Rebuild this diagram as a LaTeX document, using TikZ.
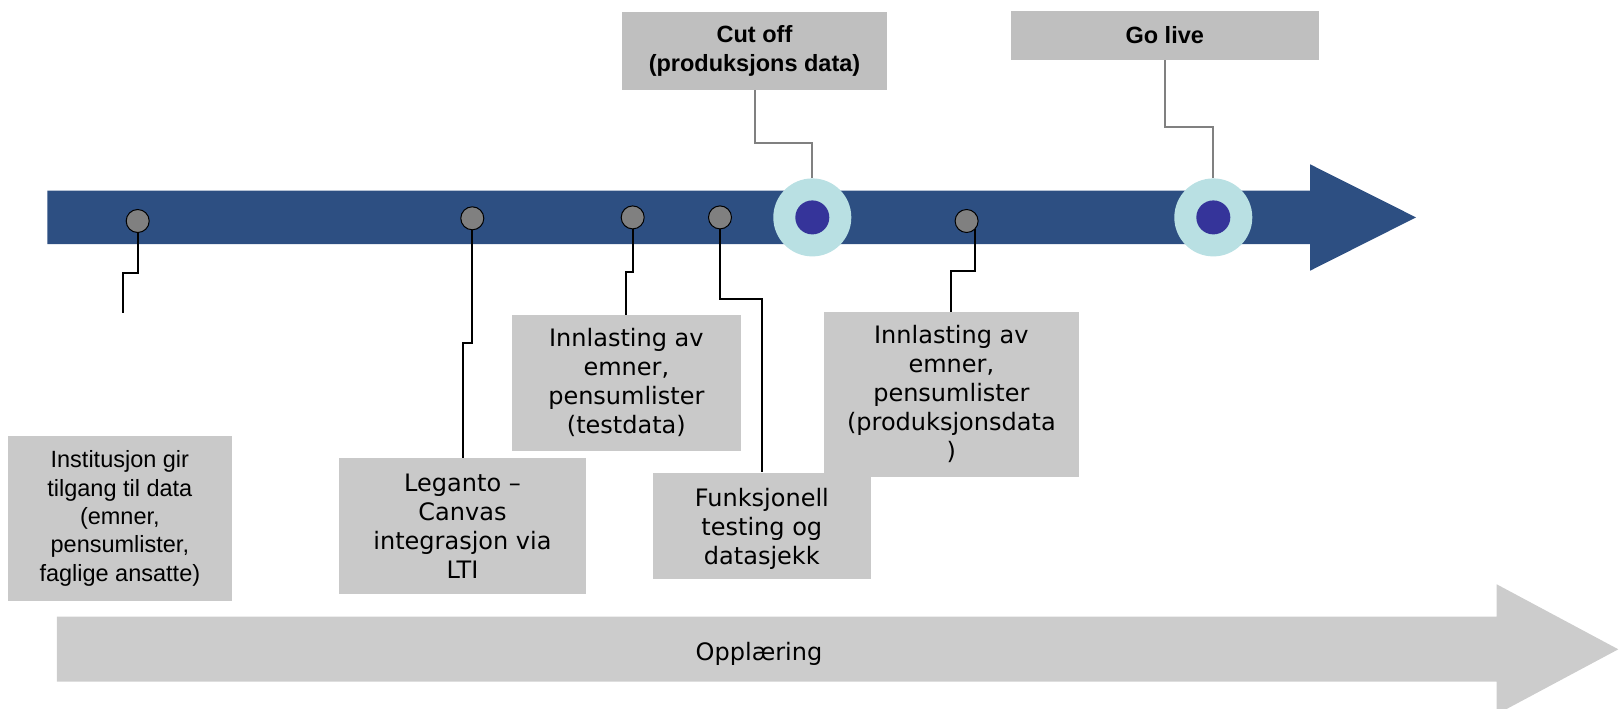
\documentclass[tikz,border=0pt]{standalone}
\usepackage{fontspec}
\setmainfont{DejaVu Sans}
\newfontfamily\arialf{Liberation Sans}
\definecolor{barblue}{RGB}{45,79,130}
\definecolor{boxgray}{RGB}{201,201,201}
\definecolor{topgray}{RGB}{191,191,191}
\definecolor{dotgray}{RGB}{128,128,128}
\definecolor{ringc}{RGB}{185,224,227}
\definecolor{corec}{RGB}{53,52,154}
\definecolor{arrgray}{RGB}{204,204,204}
\begin{document}
\begin{tikzpicture}[x=1pt,y=-1pt,
  lbox/.style={fill=boxgray, inner sep=0pt, align=center, font=\fontsize{24}{29}\selectfont},
  tbox/.style={fill=topgray, inner sep=0pt, align=center, font=\arialf\bfseries\fontsize{23.5}{28.7}\selectfont},
  dot/.style={circle, fill=dotgray, draw=black, line width=1pt, minimum size=23pt, inner sep=0pt},
  ring/.style={circle, fill=ringc, minimum size=78pt, inner sep=0pt},
  core/.style={circle, fill=corec, minimum size=34pt, inner sep=0pt},
  conn/.style={line width=2pt, draw=black},
  tconn/.style={line width=2pt, draw=dotgray}]
\useasboundingbox (0,0) rectangle (1619,709);
\clip (0,0) rectangle (1619,709);
% timeline arrow
\fill[barblue] (47.3,190.6) -- (1310.1,190.6) -- (1310.1,164.3) -- (1416,217.4)
  -- (1310.1,270.7) -- (1310.1,244.2) -- (47.3,244.2) -- cycle;
% training arrow
\fill[arrgray] (56.8,616.7) -- (1496.7,616.7) -- (1496.7,584.3) -- (1618.3,649.3)
  -- (1496.7,714.3) -- (1496.7,681.7) -- (56.8,681.7) -- cycle;
\node[font=\fontsize{24}{29}\selectfont] (opp) at (759,654) {Opplæring};
% boxes
\node[lbox, font=\arialf\fontsize{23.5}{28.3}\selectfont, minimum width=223.7pt, minimum height=164.7pt] (inst) at (119.85,518.35)
  {Institusjon gir\\tilgang til data\\(emner,\\pensumlister,\\faglige ansatte)};
\node[lbox, minimum width=247pt, minimum height=135.7pt] (leg) at (462.5,526.15)
  {Leganto –\\Canvas\\integrasjon via\\LTI};
\node[lbox, minimum width=228.7pt, minimum height=135.8pt] (test) at (626.35,382.9)
  {Innlasting av\\emner,\\pensumlister\\(testdata)};
\node[lbox, minimum width=217.7pt, minimum height=106.8pt, text depth=0pt] (fun) at (761.85,526)
  {Funksjonell\\testing og\\datasjekk};
\node[lbox, minimum width=254.5pt, minimum height=164.7pt] (prod) at (951.35,394.35)
  {Innlasting av\\emner,\\pensumlister\\(produksjonsdata\\)};
\node[tbox, minimum width=265pt, minimum height=77.7pt] (cut) at (754.5,50.75)
  {Cut off\\(produksjons data)};
\node[tbox, minimum width=307.7pt, minimum height=48.7pt] (live) at (1164.75,35.35)
  {Go live};
% milestones
\node[dot] (d1) at (137.7,221) {};
\node[dot] (d2) at (472.3,218.3) {};
\node[dot] (d3) at (632.7,217.4) {};
\node[dot] (d4) at (720,217.4) {};
\node[dot] (d5) at (966.6,221) {};
\node[ring] (r1) at (812.3,217.4) {};
\node[core] (k1) at (812.3,217.4) {};
\node[ring] (r2) at (1213.3,217.4) {};
\node[core] (k2) at (1213.3,217.4) {};
\coordinate (e1) at (123.3,313.3);
% connectors
\draw[conn] (d1.south) -- (d1.south |- 0,273.3) -| (e1);
\draw[conn] (d2.south) -- (d2.south |- 0,343.3) -| (leg.north);
\draw[conn] (d3.south) -- (d3.south |- 0,271.7) -| (test.north);
\draw[conn] (d4.south) -- (d4.south |- 0,299.3) -| (fun.north);
\draw[conn] (d5.south east) -- (d5.south east |- 0,270.7) -| (prod.north);
\draw[tconn] (cut.south) -- (cut.south |- 0,142.7) -| (r1.north);
\draw[tconn] (live.south) -- (live.south |- 0,127.3) -| (r2.north);
\end{tikzpicture}
\end{document}
